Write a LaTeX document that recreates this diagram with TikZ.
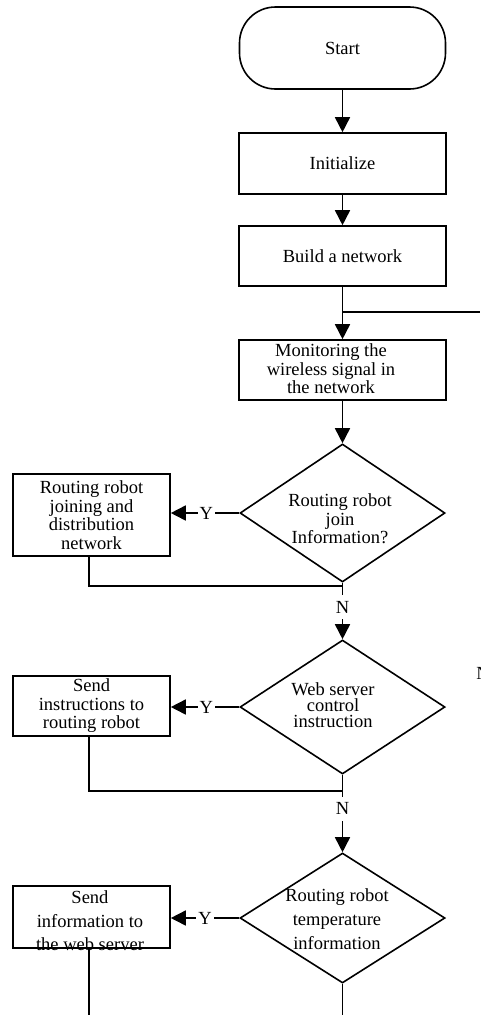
\documentclass[tikz,border=0pt]{standalone}
\usepackage{fontspec}
\setmainfont{Liberation Serif}
\usetikzlibrary{arrows.meta,shapes.geometric}
\tikzset{
  base/.style={draw, line width=1.6pt, inner sep=0pt, align=center, font=\fontsize{18.5}{18.5}\selectfont},
  procbox/.style={base, rectangle, minimum width=#1},
  termbox/.style={base, rectangle, rounded corners=36pt, minimum width=206pt, minimum height=82pt},
  decbox/.style={draw, line width=1.6pt, diamond, inner sep=0pt, minimum width=205pt},
  txt/.style={inner sep=0pt, align=center, font=\fontsize{18.5}{18.5}\selectfont},
  flow/.style={line width=1.6pt, -{Triangle[width=15pt,length=15pt]}},
  plain/.style={line width=1.6pt},
  lab/.style={fill=white, inner xsep=2pt, inner ysep=6pt, font=\fontsize{18.5}{18.5}\selectfont}
}
\begin{document}
\begin{tikzpicture}[x=1pt,y=-1pt]
\useasboundingbox (0,0) rectangle (480,1015);
% nodes
\node[termbox] (start) at (342.5,48) {Start};
\node[procbox=207pt, minimum height=61pt] (init) at (342.5,163.5) {Initialize};
\node[procbox=207pt, minimum height=60pt] (build) at (342.5,256) {Build a network};
\node[procbox=207pt, minimum height=60pt] (mon) at (342.5,370) {};
\node[txt] (mont) at (331,369) {Monitoring the\\wireless signal in\\the network};
\node[decbox, minimum height=138pt] (d1) at (342.5,513) {};
\node[txt] (d1t) at (340,519) {Routing robot\\join\\Information?};
\node[procbox=157pt, minimum height=82pt] (b1) at (91.5,515) {Routing robot\\joining and\\distribution\\network};
\node[decbox, minimum height=134pt] (d2) at (342.5,707) {};
\node[txt, font=\fontsize{18.5}{16}\selectfont] (d2t) at (333,705) {Web server\\control\\instruction};
\node[procbox=157pt, minimum height=60pt] (b2) at (91.5,706) {Send\\instructions to\\routing robot};
\node[decbox, minimum height=130pt] (d3) at (342.5,918) {};
\node[txt, font=\fontsize{18.5}{24}\selectfont] (d3t) at (337,919) {Routing robot\\temperature\\information};
\node[procbox=157pt, minimum height=62pt] (b3) at (91.5,917) {};
\node[txt, font=\fontsize{18.5}{23.5}\selectfont] (b3t) at (90,921) {Send\\information to\\the web server};
\node[txt] (nr) at (483,673) {N};
% coordinates
\coordinate (j0) at (342.5,312);
\coordinate (e0) at (480,312);
\coordinate (j1) at (342.5,586);
\coordinate (j2) at (342.5,791);
\coordinate (e3) at (342.5,1015);
\coordinate (e4) at (89,1015);
% connectors
\draw[flow] (start) -- (init);
\draw[flow] (init) -- (build);
\draw[flow] (build) -- (mon);
\draw[plain] (j0) -- (e0);
\draw[flow] (mon) -- (d1.north);
\draw[flow] (d1.west) -- node[lab, inner ysep=2pt, pos=0.48] {Y} (b1.east |- d1.west);
\draw[plain] (b1.south -| e4) |- (j1);
\draw[flow] (d1.south) -- node[lab, pos=0.43] {N} (d2.north);
\draw[flow] (d2.west) -- node[lab, inner ysep=2pt, pos=0.48] {Y} (b2.east |- d2.west);
\draw[plain] (b2.south -| e4) |- (j2);
\draw[flow] (d2.south) -- node[lab, pos=0.44] {N} (d3.north);
\draw[flow] (d3.west) -- node[lab, inner ysep=2pt, pos=0.5] {Y} (b3.east |- d3.west);
\draw[plain] (b3.south -| e4) -- (e4);
\draw[plain] (d3.south) -- (e3);
\end{tikzpicture}
\end{document}
